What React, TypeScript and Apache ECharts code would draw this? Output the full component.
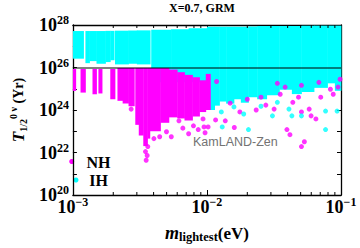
import React, { useEffect, useRef } from 'react';
import * as echarts from 'echarts';

const TITLE = 'X=0.7, GRM';
const X_MIN = 1e-3;
const X_MAX = 1e-1;
const Y_MIN = 1e20;
const Y_MAX = 1e28;
const KAMLAND_LIMIT = 1e26;
const KAMLAND_LABEL = 'KamLAND-Zen';
const LEGEND_NAMES = ['NH', 'IH'];

// dense point clouds, read as vertical columns: [mStart, mEnd, T low, T high]
const ihColumns: number[][] = [
  [1.0e-3, 1.2e-3, 2.6e26, 5.2e27],
  [1.24e-3, 1.33e-3, 1.6e26, 5.2e27],
  [1.33e-3, 1.5e-3, 2.0e26, 5.2e27],
  [1.5e-3, 1.75e-3, 1.5e26, 5.2e27],
  [1.75e-3, 1.9e-3, 1.8e26, 5.3e27],
  [1.9e-3, 2.03e-3, 2.2e26, 5.3e27],
  [2.06e-3, 2.6e-3, 1.4e26, 5.4e27],
  [2.6e-3, 3.0e-3, 1.5e26, 5.5e27],
  [3.0e-3, 3.77e-3, 1.4e26, 5.6e27],
  [3.84e-3, 5.4e-3, 2.0e25, 5.9e27],
  [5.4e-3, 7.3e-3, 2.0e25, 6.3e27],
  [7.3e-3, 1.0e-2, 2.0e25, 7.1e27],
  [1.0e-2, 1.14e-2, 1.0e24, 8.3e27],
  [1.14e-2, 1.24e-2, 1.6e24, 8.3e27],
  [1.24e-2, 1.39e-2, 2.5e24, 8.3e27],
  [1.39e-2, 1.59e-2, 2.0e24, 8.3e27],
  [1.59e-2, 1.79e-2, 3.2e24, 8.3e27],
  [1.79e-2, 2.04e-2, 2.2e24, 8.3e27],
  [2.04e-2, 2.37e-2, 4.0e24, 8.6e27],
  [2.37e-2, 2.79e-2, 3.2e24, 8.9e27],
  [2.79e-2, 3.47e-2, 5.0e24, 8.9e27],
  [3.47e-2, 4.3e-2, 9.0e24, 8.9e27],
  [4.3e-2, 5.07e-2, 5.6e24, 9.0e27],
  [5.07e-2, 6.29e-2, 7.0e24, 9.3e27],
  [6.29e-2, 7.93e-2, 1.1e25, 9.3e27],
  [7.93e-2, 9.0e-2, 1.8e25, 9.3e27],
  [9.0e-2, 1.0e-1, 8.0e24, 9.3e27],
];

const nhColumns: number[][] = [
  [1.0e-3, 1.05e-3, 7.9e24, 8.5e25],
  [1.14e-3, 1.24e-3, 6.6e24, 8.5e25],
  [1.40e-3, 1.50e-3, 5.5e24, 8.5e25],
  [1.55e-3, 1.65e-3, 6.0e24, 8.5e25],
  [1.90e-3, 2.06e-3, 3.2e24, 8.5e25],
  [2.15e-3, 2.35e-3, 2.7e24, 9.5e25],
  [2.35e-3, 2.6e-3, 2.0e24, 9.5e25],
  [2.6e-3, 2.87e-3, 1.5e24, 9.5e25],
  [2.92e-3, 3.1e-3, 2.0e23, 9.5e25],
  [3.1e-3, 3.35e-3, 6.3e22, 9.5e25],
  [3.35e-3, 3.6e-3, 2.0e22, 9.5e25],
  [3.6e-3, 3.75e-3, 4.5e22, 9.5e25],
  [3.75e-3, 4.5e-3, 1.0e23, 9.5e25],
  [4.5e-3, 5.2e-3, 2.5e23, 9.5e25],
  [5.2e-3, 6.0e-3, 4.5e23, 8.0e25],
  [6.0e-3, 6.8e-3, 4.0e23, 6.0e25],
  [6.8e-3, 7.8e-3, 3.2e23, 4.5e25],
  [7.8e-3, 8.8e-3, 5.0e23, 3.5e25],
  [8.8e-3, 9.8e-3, 8.0e23, 2.5e25],
  [9.8e-3, 1.06e-2, 1.0e24, 5.0e25],
];

// isolated points: [m_lightest, T1/2]
const nhPoints: number[][] = [
  [2.72e-3, 1.1e24], [3.48e-3, 1.1e22], [3.58e-3, 7.2e21], [3.52e-3, 4.3e21],
  [3.62e-3, 1.9e22], [4.02e-3, 4.5e22], [4.44e-3, 5.5e22], [4.99e-3, 9.5e22],
  [5.42e-3, 5.5e22], [6.18e-3, 3.1e23], [6.61e-3, 1.4e23], [7.3e-3, 7.6e22],
  [7.93e-3, 1.8e23], [8.61e-3, 1.2e23], [9.51e-3, 1.6e23], [9.68e-3, 8.5e22],
  [9.35e-3, 3.8e23], [1.02e-2, 1.6e23], [1.16e-2, 3.4e23], [1.37e-2, 3.1e23],
  [1.6e-2, 1.5e23], [1.76e-2, 8.1e23], [2.33e-2, 1.0e24], [2.75e-2, 1.7e24],
  [3.17e-2, 1.1e24], [3.95e-2, 1.2e23], [4.16e-2, 6.9e22], [4.37e-2, 2.3e24],
  [5.07e-2, 8.1e23], [5.79e-2, 1.1e24], [5.98e-2, 5.3e23], [5.07e-2, 1.9e22],
  [5.33e-2, 3.2e22], [6.5e-2, 3.8e23], [8.75e-2, 5.5e24], [1.49e-2, 2.1e24],
  [2.0e-2, 3.2e24], [2.53e-2, 4.0e24], [3.52e-2, 5.5e24], [4.82e-2, 4.0e24],
  [7.06e-2, 4.0e24], [9.5e-2, 1.2e25], [3.35e-2, 1.8e25], [3.83e-2, 1.2e25],
  [5.07e-2, 1.45e25], [6.84e-2, 2.0e25], [8.34e-2, 9.5e24], [9.84e-2, 2.8e25],
  [1.18e-2, 2.2e25],
];

const ihPoints: number[][] = [
  [1.30e-2, 1.6e23], [2.04e-2, 1.2e23], [1.28e-2, 8.1e23], [1.88e-2, 6.5e23],
  [2.53e-2, 1.5e24], [3.08e-2, 5.3e23], [4.09e-2, 1.1e24], [4.3e-2, 5.3e23],
  [5.07e-2, 5.3e23], [7.67e-2, 8.9e23], [7.67e-2, 1.2e23], [9.35e-2, 8.9e23],
  [1.59e-2, 1.4e24], [3.35e-2, 2.3e24],
];

const minorTicksX = [
  2e-3, 3e-3, 4e-3, 5e-3, 6e-3, 7e-3, 8e-3, 9e-3,
  2e-2, 3e-2, 4e-2, 5e-2, 6e-2, 7e-2, 8e-2, 9e-2,
];

const NH_COLOR = '#ff00ff';
const IH_COLOR = '#00ffff';
const SERIF = '"Liberation Serif", "Times New Roman", serif';
const SANS = '"Liberation Sans", Arial, sans-serif';

const powRich = {
  b: { fontFamily: SERIF, fontWeight: 'bold', fontSize: 18, lineHeight: 22, color: '#000' },
  s: { fontFamily: SERIF, fontWeight: 'bold', fontSize: 12, lineHeight: 12, verticalAlign: 'top', color: '#000' },
};

function expOf(v: number) {
  return Math.round(Math.log10(v));
}

function columnRenderer(color: string) {
  return (params: any, api: any) => {
    const p0 = api.coord([api.value(0), api.value(3)]);
    const p1 = api.coord([api.value(1), api.value(2)]);
    return {
      type: 'rect',
      shape: { x: p0[0], y: p0[1], width: p1[0] - p0[0] + 0.4, height: p1[1] - p0[1] },
      style: { fill: color },
    };
  };
}

function legendEntry(name: string, color: string, dotX: number, textX: number, y: number) {
  return {
    type: 'group',
    children: [
      { type: 'circle', shape: { cx: dotX, cy: y, r: 2.5 }, style: { fill: color } },
      {
        type: 'text', x: textX, y: y + 0.5,
        style: { text: name, fontFamily: SERIF, fontWeight: 'bold', fontSize: 16, lineHeight: 14, fill: '#000', align: 'left', verticalAlign: 'middle' },
      },
    ],
  };
}

export default function App() {
  const ref = useRef<HTMLDivElement>(null);
  useEffect(() => {
    document.body.style.margin = '0';
    if (!ref.current) return;
    const chart = echarts.init(ref.current, undefined, { renderer: 'svg' });
    const axisLine = { show: true, onZero: false, lineStyle: { color: '#000', width: 1.3 } };
    const tick = { show: true, inside: true, length: 5, lineStyle: { color: '#000', width: 1 } };
    chart.setOption({
      animation: false,
      grid: { left: 63, right: 19, top: 25, bottom: 51, containLabel: false },
      xAxis: [
        {
          type: 'log', logBase: 10, min: X_MIN, max: X_MAX, position: 'bottom',
          axisLine, axisTick: tick, splitLine: { show: false }, minorTick: { show: false },
          axisLabel: {
            margin: 1,
            formatter: (v: number) => `{b|10}{s|\u2212${-expOf(v)}}`,
            rich: powRich,
          },
          name: '{m|m}{sub|lightest}{u|(eV)}',
          nameLocation: 'middle',
          nameGap: 28,
          nameTextStyle: {
            rich: {
              m: { fontFamily: SERIF, fontWeight: 'bold', fontStyle: 'italic', fontSize: 18, lineHeight: 20, color: '#000' },
              sub: { fontFamily: SERIF, fontWeight: 'bold', fontSize: 12.5, lineHeight: 12, verticalAlign: 'bottom', color: '#000' },
              u: { fontFamily: SERIF, fontWeight: 'bold', fontSize: 17, lineHeight: 20, color: '#000' },
            },
          },
        },
        {
          type: 'log', logBase: 10, min: X_MIN, max: X_MAX, position: 'top',
          axisLine, axisTick: tick, splitLine: { show: false }, axisLabel: { show: false },
        },
      ],
      yAxis: [
        {
          type: 'log', logBase: 10, min: Y_MIN, max: Y_MAX, position: 'left',
          axisLine, axisTick: { ...tick, length: 4 }, splitLine: { show: false },
          axisLabel: {
            margin: 4,
            formatter: (v: number) => {
              const e = expOf(v);
              return e % 2 === 0 ? `{b|10}{s|${e}}` : '';
            },
            rich: powRich,
          },
          name: '{t|T}{sub|1/2}{sup|0 \u03bd}{u| (Yr)}',
          nameLocation: 'middle',
          nameGap: 42,
          nameTextStyle: {
            rich: {
              t: { fontFamily: SERIF, fontWeight: 'bold', fontStyle: 'italic', fontSize: 17, lineHeight: 20, color: '#000' },
              sub: { fontFamily: SERIF, fontWeight: 'bold', fontSize: 10, lineHeight: 10, verticalAlign: 'bottom', color: '#000' },
              sup: { fontFamily: SERIF, fontWeight: 'bold', fontSize: 10, lineHeight: 10, verticalAlign: 'top', color: '#000' },
              u: { fontFamily: SERIF, fontWeight: 'bold', fontSize: 14, lineHeight: 20, color: '#000' },
            },
          },
        },
        {
          type: 'log', logBase: 10, min: Y_MIN, max: Y_MAX, position: 'right',
          axisLine, axisTick: { ...tick, length: 4 }, splitLine: { show: false }, axisLabel: { show: false },
        },
      ],
      graphic: [
        {
          type: 'text', x: 202, y: 2,
          style: { text: TITLE, fontFamily: SERIF, fontWeight: 'bold', fontSize: 12, fill: '#000', align: 'center', verticalAlign: 'top' },
        },
        {
          type: 'text', x: 193, y: 135,
          style: { text: KAMLAND_LABEL, fontFamily: SANS, fontSize: 12.5, fill: '#737373', align: 'left', verticalAlign: 'top' },
        },
        legendEntry(LEGEND_NAMES[0], NH_COLOR, 71.7, 86.5, 161.5),
        legendEntry(LEGEND_NAMES[1], IH_COLOR, 76, 89.3, 180),
      ],
      series: [
        {
          name: 'IH region', type: 'custom', renderItem: columnRenderer(IH_COLOR),
          data: ihColumns, encode: { x: [0, 1], y: [2, 3] }, silent: true, z: 1,
        },
        {
          name: 'NH region', type: 'custom', renderItem: columnRenderer(NH_COLOR),
          data: nhColumns, encode: { x: [0, 1], y: [2, 3] }, silent: true, z: 2,
        },
        {
          name: LEGEND_NAMES[0], type: 'scatter', data: nhPoints, symbol: 'circle', symbolSize: 5,
          itemStyle: { color: NH_COLOR }, silent: true, z: 3,
        },
        {
          name: LEGEND_NAMES[1], type: 'scatter', data: ihPoints, symbol: 'circle', symbolSize: 5,
          itemStyle: { color: IH_COLOR }, silent: true, z: 4,
          markLine: {
            silent: true, symbol: ['none', 'none'], label: { show: false },
            lineStyle: { color: 'rgba(0,0,0,0.5)', width: 2, type: 'solid' },
            data: [{ yAxis: KAMLAND_LIMIT }],
          },
        },
        {
          name: 'minor ticks', type: 'custom', silent: true, z: 5,
          data: minorTicksX.map((v) => [v, Y_MIN]),
          encode: { x: 0, y: 1 },
          renderItem: (params: any, api: any) => {
            const b = api.coord([api.value(0), Y_MIN]);
            const t = api.coord([api.value(0), Y_MAX]);
            return {
              type: 'group',
              children: [
                { type: 'line', shape: { x1: b[0], y1: b[1], x2: b[0], y2: b[1] - 3 }, style: { stroke: '#000', lineWidth: 1 } },
                { type: 'line', shape: { x1: t[0], y1: t[1], x2: t[0], y2: t[1] + 3 }, style: { stroke: '#000', lineWidth: 1 } },
              ],
            };
          },
        },
      ],
    });
    return () => chart.dispose();
  }, []);
  return <div ref={ref} style={{ width: 360, height: 248 }} />;
}
